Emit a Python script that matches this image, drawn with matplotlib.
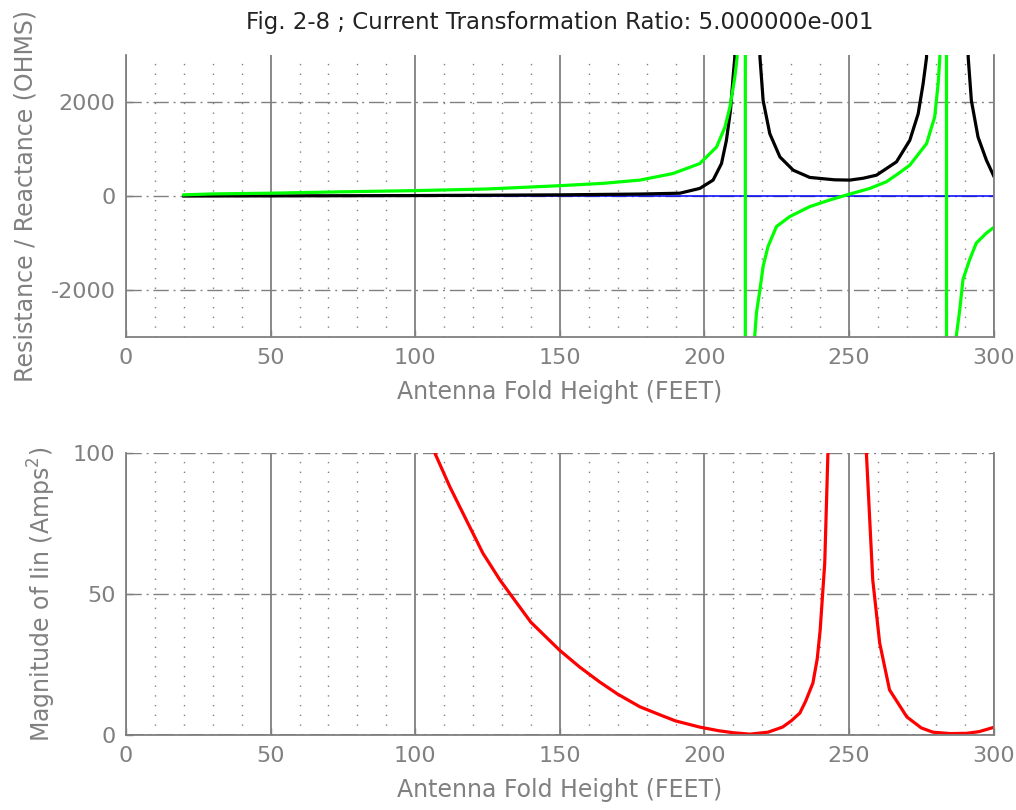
import numpy as np
import matplotlib
matplotlib.use("Agg")
import matplotlib.pyplot as plt
from matplotlib.ticker import MultipleLocator, FixedLocator

# ---------------- data ----------------
title_text = "Fig. 2-8 ; Current Transformation Ratio: 5.000000e-001"
xlabel_text = "Antenna Fold Height (FEET)"
ylabel_top = "Resistance / Reactance (OHMS)"
ylabel_bot = "Magnitude of Iin (Amps$^2$)"

# zero reference line (blue)
zero_x = [20, 300]
zero_y = [0, 0]

# resistance (black); poles go far off-scale
res_x = [20, 50, 100, 150, 177.7, 191.5, 198.4, 203, 205.9, 207.6, 209, 209.9, 210.5, 214.2,
         219.2, 220.3, 222.6, 226.1, 230.7, 236.4, 239.9, 245, 250.3, 255, 259.5, 266.4,
         271, 273.9, 275.6, 276.8, 283.7, 291.2, 292.3, 294.6, 297.5, 300]
res_y = [0, 3, 10, 25, 42, 60, 162, 339, 691, 1185, 1820, 2525, 2950, 100000,
         2950, 2032, 1327, 832, 550, 396, 375, 345, 339, 380, 444, 727,
         1185, 1750, 2385, 2950, 100000, 2950, 2032, 1256, 762, 430]

# reactance (green)
rea_x = [20, 30, 50, 75, 100, 125, 150, 165, 177.7, 189.2, 198.4, 204.2, 207.1, 208.8,
         210.5, 211.3, 214.1, 214.2, 217.4, 218, 219.2, 220.3, 222, 224.9, 229.5, 236.4,
         243.3, 249.1, 257.2, 262.9, 266.4, 271, 276.8, 279.6, 280.8, 281.4, 283.6, 283.8,
         287.1, 288.3, 289.4, 291.7, 294, 297.5, 300]
rea_y = [25, 45, 60, 90, 115, 150, 220, 270, 339, 480, 691, 1044, 1467, 1890,
         2525, 2950, 100000, -100000, -2977, -2483, -1989, -1496, -1073, -650, -438, -226,
         -85, 21, 162, 303, 450, 656, 1115, 1679, 2385, 2950, 100000, -100000,
         -2977, -2412, -1778, -1354, -1001, -789, -670]

# |Iin|^2 (red)
iin_x = [20, 60, 100, 106.8, 112, 117.8, 123.4, 129.3, 132.7, 140, 145, 150, 157, 163.8,
         170, 177.7, 185, 190, 198.4, 205, 210, 215.7, 222, 227, 230, 233, 235, 237.5,
         239, 240, 241.6, 242.7, 249, 256, 258.2, 260.6, 264, 270, 275, 279, 285, 290.7,
         295, 300]
iin_y = [2000, 500, 130, 100, 88, 76, 64.5, 55, 50.2, 40, 35, 30, 24, 18.8,
         14.5, 10, 7, 5, 2.8, 1.5, 0.8, 0.3, 1, 2.8, 5, 7.8, 12, 18.4,
         27, 37, 61, 100, 1000, 100, 55, 32.6, 16, 6.4, 2.5, 1, 0.5, 0.6,
         1.2, 2.7]

top_yticks = [-2000, 0, 2000]
bot_yticks = [0, 50, 100]
xticks = [0, 50, 100, 150, 200, 250, 300]

# ---------------- style ----------------
plt.rcParams['font.family'] = ['DejaVu Sans']
plt.rcParams['mathtext.fontset'] = 'dejavusans'
plt.rcParams['axes.unicode_minus'] = False
FS_TICK = 16
FS_LAB = 17
FS_TITLE = 16.5
GRAY = '#808080'

fig = plt.figure(figsize=(10.16, 8.10), dpi=100)
ax1 = fig.add_axes([0.124, 0.584, 0.854, 0.348])
ax2 = fig.add_axes([0.124, 0.0926, 0.854, 0.348])


def style_axes(ax, yticks, ylim):
    ax.set_xlim(0, 300)
    ax.set_ylim(*ylim)
    ax.xaxis.set_major_locator(FixedLocator(xticks))
    ax.xaxis.set_minor_locator(MultipleLocator(10))
    ax.yaxis.set_major_locator(FixedLocator(yticks))
    ax.spines['top'].set_visible(False)
    for s in ['left', 'bottom', 'right']:
        ax.spines[s].set_color(GRAY)
        ax.spines[s].set_linewidth(1.3)
    ax.tick_params(axis='both', which='major', direction='in', length=5, width=1,
                   color=GRAY, labelcolor=GRAY, labelsize=FS_TICK)
    ax.tick_params(axis='x', which='major', pad=8)
    ax.tick_params(axis='y', which='major', pad=7.5, right=False)
    ax.tick_params(axis='x', which='minor', length=0)
    ax.grid(True, axis='x', which='major', color=GRAY, linestyle='-', linewidth=1.3)
    ax.grid(True, axis='x', which='minor', color=GRAY, linestyle=(0, (1, 6)), linewidth=1)
    ax.grid(True, axis='y', which='major', color=GRAY, linestyle=(0, (11, 3.5, 1.4, 3.5)),
            linewidth=1)
    ax.set_axisbelow(True)
    ax.set_xlabel(xlabel_text, fontsize=FS_LAB, color=GRAY)
    ax.xaxis.set_label_coords(0.5, -0.1525)


style_axes(ax1, top_yticks, (-3000, 3000))
style_axes(ax2, bot_yticks, (0, 100))

ax1.plot(zero_x, zero_y, color='#0000ff', linewidth=1.1)
ax1.plot(res_x, res_y, color='black', linewidth=2.3)
ax1.plot(rea_x, rea_y, color='#00ff00', linewidth=2.3)
ax1.set_ylabel(ylabel_top, fontsize=FS_LAB, color=GRAY)
ax1.yaxis.set_label_coords(-0.1025, 0.5)

ax2.axhline(0, color='#606060', linewidth=2, linestyle=(0, (6, 2, 1, 2)))
ax2.plot(iin_x, iin_y, color='#ff0000', linewidth=2.3)
ax2.set_ylabel(ylabel_bot, fontsize=FS_LAB, color=GRAY)
ax2.yaxis.set_label_coords(-0.078, 0.5)

fig.text(0.5512, 1 - 22 / 810, title_text, fontsize=FS_TITLE, color='#222222',
         ha='center', va='center')

fig.savefig('out.png', dpi=100)
